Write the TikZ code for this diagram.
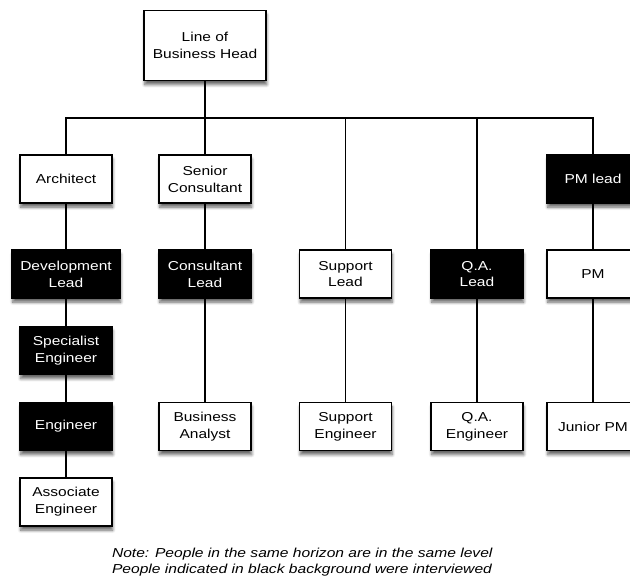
\documentclass[tikz,border=0pt]{standalone}
\usepackage{fontspec}
\setmainfont[FakeStretch=1.2]{Liberation Sans}
\usetikzlibrary{shadows.blur}
\begin{document}
\begin{tikzpicture}[scale=1,inner sep=0pt,outer sep=0pt,line width=1pt,
rolebox/.style={draw,rectangle,fill=white,line width=1.3pt,minimum width=2.3cm,minimum height=1.2cm,align=center,
  font=\fontsize{9.2}{12}\selectfont,
  blur shadow={shadow xshift=0.5pt,shadow yshift=-3pt,shadow blur steps=6,shadow opacity=60}},
seenbox/.style={rolebox,fill=black,text=white}]
\useasboundingbox (0,0) rectangle (15.75,14.525);
% top
\draw (5.125,13.3875) node[rolebox,minimum width=3.05cm,minimum height=1.75cm] (head) {Line of\\Business Head};
\coordinate (bus) at (5.125,11.575);
% first level
\draw (1.65,10.05) node[rolebox] (arch) {Architect};
\draw (5.125,10.05) node[rolebox] (senior) {Senior\\Consultant};
\draw (14.825,10.05) node[seenbox] (pmlead) {PM lead};
% second level
\draw (1.65,7.675) node[seenbox,minimum width=2.7cm] (devlead) {Development\\Lead};
\draw (5.125,7.675) node[seenbox] (conslead) {Consultant\\Lead};
\draw (8.6375,7.675) node[rolebox] (suplead) {Support\\Lead};
\draw (11.925,7.675) node[seenbox] (qalead) {Q.A.\\Lead};
\draw (14.825,7.675) node[rolebox] (pm) {PM};
% third level
\draw (1.65,5.7625) node[seenbox] (spec) {Specialist\\Engineer};
% fourth level
\draw (1.65,3.8625) node[seenbox] (eng) {Engineer};
\draw (5.125,3.8625) node[rolebox] (ba) {Business\\Analyst};
\draw (8.6375,3.8625) node[rolebox] (supeng) {Support\\Engineer};
\draw (11.925,3.8625) node[rolebox] (qaeng) {Q.A.\\Engineer};
\draw (14.825,3.8625) node[rolebox] (jpm) {Junior PM};
% fifth level
\draw (1.65,1.975) node[rolebox] (assoc) {Associate\\Engineer};
% links
\draw (head) -- (senior);
\draw (arch.north) |- (bus) -| (pmlead.north);
\draw (suplead.north |- bus) -- (suplead.north);
\draw (qalead.north |- bus) -- (qalead.north);
\draw (arch) -- (devlead);
\draw (devlead) -- (spec);
\draw (spec) -- (eng);
\draw (eng) -- (assoc);
\draw (senior) -- (conslead);
\draw (conslead) -- (ba);
\draw (suplead) -- (supeng);
\draw (qalead) -- (qaeng);
\draw (pmlead) -- (pm);
\draw (pm) -- (jpm);
% note
\draw (2.8,0.48) node[anchor=west,align=left,font=\fontsize{9.25}{11.4}\selectfont\itshape] (note)
  {Note: People in the same horizon are in the same level\\People indicated in black background were interviewed};
\end{tikzpicture}
\end{document}
